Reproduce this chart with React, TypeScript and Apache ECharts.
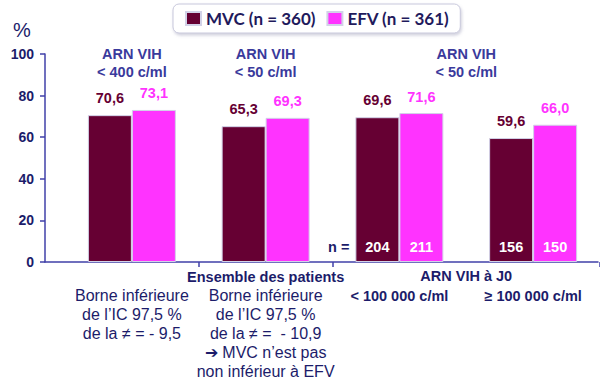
import React, { useEffect, useRef } from "react";
import * as echarts from "echarts";

const categories = ["< 400 c/ml", "< 50 c/ml", "< 100 000 c/ml", "≥ 100 000 c/ml"];
const mvcValues = [70.6, 65.3, 69.6, 59.6];
const efvValues = [73.1, 69.3, 71.6, 66.0];
const mvcCounts: (number | null)[] = [null, null, 204, 156];
const efvCounts: (number | null)[] = [null, null, 211, 150];
const seriesNames = ["MVC (n = 360)", "EFV (n = 361)"];
const yMin = 0;
const yMax = 100;
const yStep = 20;
const topLabels = ["ARN VIH\n< 400 c/ml", "ARN VIH\n< 50 c/ml", "ARN VIH\n< 50 c/ml"];
const groupTitles = ["Ensemble des patients", "ARN VIH à J0"];
const noteGroup1 = ["Borne inférieure", "de l’IC 97,5 %", "de la ≠ = - 9,5"];
const noteGroup2 = ["Borne inférieure", "de l’IC 97,5 %", "de la ≠ =  - 10,9", "➔ MVC n’est pas", "non inférieur à EFV"];

const MVC = "#660033";
const EFV = "#ff33ff";
const AXIS = "#4040a8";
const NAVY = "#1c1c6a";
const BLUE = "#3a3a9c";
const FONT = "'Liberation Sans', Arial, sans-serif";
const BAR_W = 44;

const fmt = (v: number) => v.toFixed(1).replace(".", ",");

export default function App() {
  const ref = useRef<HTMLDivElement>(null);
  useEffect(() => {
    document.body.style.margin = "0";
    if (!ref.current) return;
    const chart = echarts.init(ref.current, null, { renderer: "svg" });

    const bottomLabel = (_v: string, i: number) => {
      if (i === 0) return ["{b| }", ...noteGroup1.map((l) => `{r|${l}}`)].join("\n");
      if (i === 1) return [`{b|${groupTitles[0]}}`, ...noteGroup2.map((l) => `{r|${l}}`)].join("\n");
      return `{b| }\n{b|${categories[i]}}`;
    };

    const option: any = {
      animation: false,
      legend: {
        data: seriesNames,
        left: 173,
        top: 4,
        icon: "rect",
        itemWidth: 15,
        itemHeight: 13,
        itemGap: 11,
        padding: [6, 11, 6, 12],
        backgroundColor: "#ffffff",
        borderColor: "#c8c8dc",
        borderWidth: 1,
        borderRadius: 6,
        shadowColor: "rgba(120,120,160,0.35)",
        shadowBlur: 3,
        shadowOffsetX: 1,
        shadowOffsetY: 2,
        textStyle: { fontFamily: "Lato, sans-serif", fontWeight: "bold", fontSize: 17, color: "#1f1a5c" },
      },
      grid: [
        { left: 45, right: 2, top: 54, bottom: 122 },
        { left: 65, width: 538, top: 54, bottom: 122 },
      ],
      xAxis: [
        {
          gridIndex: 0,
          type: "value",
          min: 0,
          max: 1,
          axisLine: { show: true, lineStyle: { color: AXIS, width: 1.5 } },
          axisTick: { show: false },
          axisLabel: { show: false },
          splitLine: { show: false },
        },
        {
          gridIndex: 1,
          type: "category",
          data: categories,
          axisLine: { show: false },
          axisTick: { show: true, interval: (i: number) => i === 1 || i === 2, length: 5, lineStyle: { color: AXIS, width: 1.5 } },
          axisLabel: {
            interval: 0,
            margin: 5,
            formatter: bottomLabel,
            rich: {
              b: { fontFamily: FONT, fontWeight: "bold", fontSize: 14.5, lineHeight: 19, color: NAVY },
              r: { fontFamily: FONT, fontSize: 16, lineHeight: 19, color: NAVY },
            },
          },
          splitLine: { show: false },
        },
        { gridIndex: 1, type: "category", data: categories, show: false },
      ],
      yAxis: [
        {
          gridIndex: 0,
          type: "value",
          min: yMin,
          max: yMax,
          interval: yStep,
          axisLine: { show: true, lineStyle: { color: AXIS, width: 1.5 } },
          axisTick: { show: true, length: 5, lineStyle: { color: AXIS, width: 1.5 } },
          axisLabel: { color: NAVY, fontFamily: FONT, fontWeight: "bold", fontSize: 14, margin: 11 },
          splitLine: { show: false },
        },
        { gridIndex: 1, type: "value", min: yMin, max: yMax, interval: yStep, show: false, splitLine: { show: false } },
      ],
      series: [
        {
          name: seriesNames[0],
          type: "bar",
          xAxisIndex: 1,
          yAxisIndex: 1,
          data: mvcValues,
          barWidth: BAR_W,
          barGap: "0%",
          itemStyle: { color: MVC, borderColor: "#d2d2e8", borderWidth: 1 },
          label: { show: true, position: "top", distance: 10, formatter: (p: any) => fmt(p.value), color: MVC, fontFamily: FONT, fontWeight: "bold", fontSize: 14.5 },
        },
        {
          name: seriesNames[1],
          type: "bar",
          xAxisIndex: 1,
          yAxisIndex: 1,
          data: efvValues,
          barWidth: BAR_W,
          barGap: "0%",
          itemStyle: { color: EFV, borderColor: "#d2d2e8", borderWidth: 1 },
          label: { show: true, position: "top", distance: 9, formatter: (p: any) => fmt(p.value), color: EFV, fontFamily: FONT, fontWeight: "bold", fontSize: 14.5 },
        },
        {
          name: "n MVC",
          type: "bar",
          xAxisIndex: 2,
          yAxisIndex: 1,
          data: mvcValues,
          barWidth: BAR_W,
          barGap: "0%",
          silent: true,
          itemStyle: { color: "rgba(0,0,0,0)" },
          label: { show: true, position: "insideBottom", distance: 8, formatter: (p: any) => (mvcCounts[p.dataIndex] ?? "") + "", color: "#ffffff", fontFamily: FONT, fontWeight: "bold", fontSize: 14.5 },
        },
        {
          name: "n EFV",
          type: "bar",
          xAxisIndex: 2,
          yAxisIndex: 1,
          data: efvValues,
          barWidth: BAR_W,
          barGap: "0%",
          silent: true,
          itemStyle: { color: "rgba(0,0,0,0)" },
          label: { show: true, position: "insideBottom", distance: 8, formatter: (p: any) => (efvCounts[p.dataIndex] ?? "") + "", color: "#ffffff", fontFamily: FONT, fontWeight: "bold", fontSize: 14.5 },
        },
      ],
    };
    chart.setOption(option);

    const cx = (i: number) => chart.convertToPixel({ xAxisIndex: 1 } as any, categories[i]) as number;
    const py = (v: number) => chart.convertToPixel({ yAxisIndex: 1 } as any, v) as number;
    const y0 = py(0);
    const y100 = py(100);
    const mid23 = (cx(2) + cx(3)) / 2;
    const txt = (text: string, x: number, y: number, font: string, fill: string, align = "center", vAlign = "middle", lineHeight = 18) => ({
      type: "text",
      x,
      y,
      silent: true,
      style: { text, font, fill, align, textAlign: align, verticalAlign: vAlign, textVerticalAlign: vAlign, lineHeight },
    });
    const boldFont = `bold 14.5px ${FONT}`;
    chart.setOption({
      graphic: [
        txt("%", 22, 30, `20px ${FONT}`, NAVY),
        txt(topLabels[0], cx(0), y100 - 9, boldFont, BLUE, "center", "top"),
        txt(topLabels[1], cx(1), y100 - 9, boldFont, BLUE, "center", "top"),
        txt(topLabels[2], mid23, y100 - 9, boldFont, BLUE, "center", "top"),
        txt(groupTitles[1], mid23, y0 + 14, boldFont, NAVY),
        txt("n =", cx(2) - BAR_W - 6, y0 - 15, boldFont, NAVY, "right"),
      ],
    });

    return () => chart.dispose();
  }, []);
  return <div ref={ref} style={{ width: 600, height: 384 }} />;
}
